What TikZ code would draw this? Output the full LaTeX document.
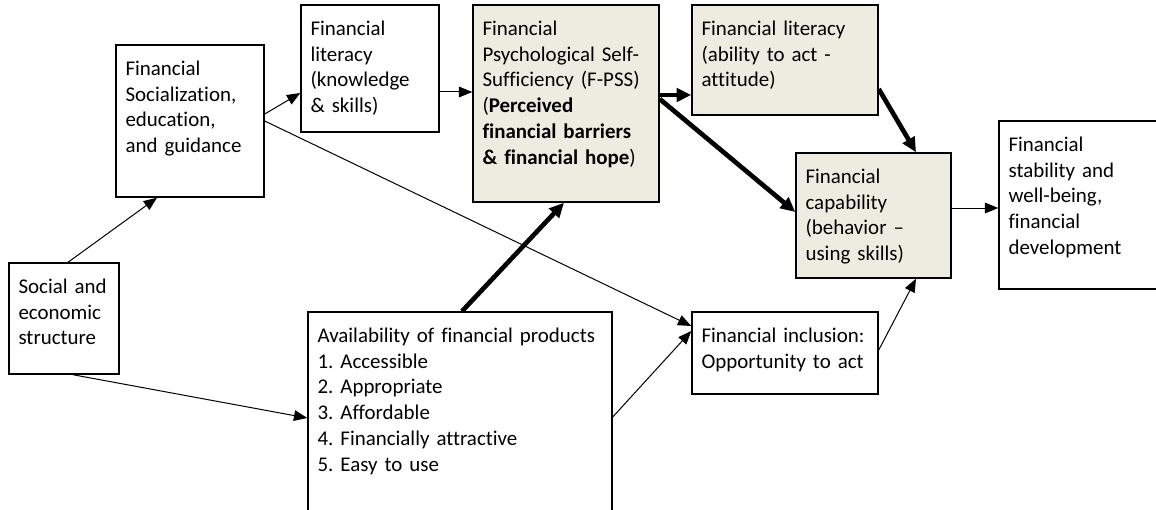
\documentclass[tikz,border=0pt]{standalone}
\usepackage{fontspec}
\setmainfont{Carlito}[Ligatures={NoCommon}]
\usetikzlibrary{arrows.meta,fit}

\definecolor{boxfill}{HTML}{EEECE1}
\frenchspacing

\begin{document}
\begin{tikzpicture}[x=0.75pt, y=-0.75pt,
        box/.style={draw, line width=1.1pt, inner sep=0pt},
        shaded/.style={box, fill=boxfill},
        txt/.style={anchor=north west, align=left, text width=12cm,
            inner xsep=7.5pt, inner ysep=3pt, text height=20pt,
            font=\fontsize{15.7}{19.4}\selectfont},
        link/.style={-{Triangle[length=10pt,width=8pt]}, line width=0.75pt},
        strong/.style={-{Triangle[length=11pt,width=10pt]}, line width=3.5pt}]
    \useasboundingbox (0,0) rectangle (1156,510);

    % boxes
    \node[box, fit={(9,263) (119,374)}] (soc) {};
    \node[box, fit={(116,45) (264,197)}] (fsoc) {};
    \node[box, fit={(301,5) (439,132)}] (lit1) {};
    \node[shaded, fit={(473,5) (659,202)}] (fpss) {};
    \node[shaded, fit={(692,5) (878,115)}] (lit2) {};
    \node[shaded, fit={(796,153) (951,278)}] (cap) {};
    \node[box, fit={(999,121) (1175,289)}] (stab) {};
    \node[box, fit={(308,312) (612,525)}] (avail) {};
    \node[box, fit={(692,312) (878,394)}] (incl) {};

    % texts
    \node[txt] (soc-t) at (soc.north west) {Social and\\economic\\structure};
    \node[txt] (fsoc-t) at (fsoc.north west) {Financial\\Socialization,\\education,\\and guidance};
    \node[txt] (lit1-t) at (lit1.north west) {Financial\\literacy\\(knowledge\\\& skills)};
    \node[txt] (fpss-t) at (fpss.north west) {Financial\\Psychological Self-\\Sufficiency (F-PSS)\\(\textbf{Perceived}\\\textbf{financial barriers}\\\textbf{\& financial hope})};
    \node[txt] (lit2-t) at (lit2.north west) {Financial literacy\\(ability to act -\\attitude)};
    \node[txt] (cap-t) at (cap.north west) {Financial\\capability\\(behavior --\\using skills)};
    \node[txt] (stab-t) at (stab.north west) {Financial\\stability and\\well-being,\\financial\\development};
    \node[txt] (avail-t) at (avail.north west) {Availability of financial products\\1. Accessible\\2. Appropriate\\3. Affordable\\4. Financially attractive\\5. Easy to use};
    \node[txt] (incl-t) at (incl.north west) {Financial inclusion:\\Opportunity to act};

    % thin arrows
    \draw[link] (soc.north -| 68,0) -- (fsoc.south -| 157,0);
    \draw[link] (soc.south -| 73,0) -- (avail.west |- 0,418);
    \draw[link] (fsoc.east |- 0,114) -- (lit1.west |- 0,93);
    \draw[link] (fsoc.east |- 0,121) -- (incl.west |- 0,326);
    \draw[link] (lit1.east |- 0,92) -- (fpss.west |- 0,92);
    \draw[link] (avail.east |- 0,417) -- (incl.west |- 0,331);
    \draw[link] (incl.east |- 0,350) -- (cap.south -| 916,0);
    \draw[link] (cap.east |- 0,208) -- (stab.west |- 0,208);

    % thick arrows
    \draw[strong] (avail.north -| 462,0) -- (fpss.south -| 564,0);
    \draw[strong] (fpss.east |- 0,95) -- (lit2.west |- 0,95);
    \draw[strong] (fpss.east |- 0,99) -- (cap.west |- 0,212);
    \draw[strong] (lit2.east |- 0,89) -- (cap.north -| 916,0);
\end{tikzpicture}
\end{document}
